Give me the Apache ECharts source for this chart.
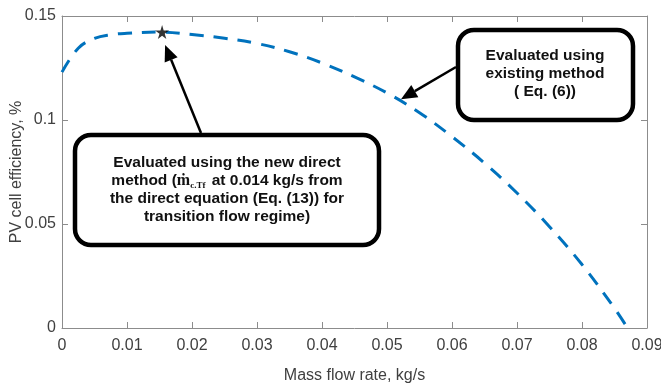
<!DOCTYPE html>
<html lang="en" style="height: 100%;width: 100%">
<head>
    <meta charset="utf-8">
</head>
<body style="height: 100%;width: 100%; margin: 0">
<div id="container" style="height: 385px;width: 661px;"></div>

<script type="text/javascript" src="https://cdn.jsdelivr.net/npm/echarts@6/dist/echarts.min.js"></script>
<script type="text/javascript">
    // mass flow rate (kg/s) and PV cell efficiency (%)
    var flowRates = [0, 0.0025, 0.005, 0.0075, 0.01, 0.015, 0.02, 0.025, 0.03, 0.035, 0.04,
        0.045, 0.05, 0.055, 0.06, 0.065, 0.07, 0.075, 0.08, 0.085, 0.087];
    var efficiency = [0.123, 0.1345, 0.1392, 0.141, 0.1417, 0.1423, 0.1411, 0.1393, 0.1368, 0.1328, 0.1274,
        0.1207, 0.113, 0.1035, 0.092, 0.0793, 0.0649, 0.0487, 0.0305, 0.0095, 0];
    // optimum from the direct method
    var starPoint = [0.0154, 0.1423];
    // point on the curve the second callout points at
    var curveTarget = [0.052, 0.1095];

    var xTickLabels = ['0', '0.01', '0.02', '0.03', '0.04', '0.05', '0.06', '0.07', '0.08', '0.09'];
    var yTickLabels = ['0', '0.05', '0.1', '0.15'];

    var lineData = flowRates.map(function (x, i) { return [x, efficiency[i]]; });

    var dom = document.getElementById('container');
    var myChart = echarts.init(dom, null, {renderer: 'canvas'});

    var axisGray = '#8c8c8c';
    var labelFont = "Arial, sans-serif";

    function xAxisBase(pos) {
        return {
            type: 'value', position: pos, min: 0, max: 0.09, interval: 0.01,
            axisLine: {show: true, onZero: false, lineStyle: {color: axisGray, width: 1}},
            axisTick: {show: true, inside: true, length: 6, lineStyle: {color: axisGray}},
            splitLine: {show: false}
        };
    }
    function yAxisBase(pos) {
        return {
            type: 'value', position: pos, min: 0, max: 0.15, interval: 0.05,
            axisLine: {show: true, onZero: false, lineStyle: {color: axisGray, width: 1}},
            axisTick: {show: true, inside: true, length: 6, lineStyle: {color: axisGray}},
            splitLine: {show: false}
        };
    }

    var xBottom = xAxisBase('bottom');
    xBottom.axisLabel = {
        show: true, color: '#404040', fontSize: 16, fontFamily: labelFont, margin: 10,
        formatter: function (v) { return xTickLabels[Math.round(v / 0.01)]; }
    };
    xBottom.name = 'Mass flow rate, kg/s';
    xBottom.nameLocation = 'middle';
    xBottom.nameGap = 40;
    xBottom.nameMoveOverlap = false;
    xBottom.nameTextStyle = {color: '#404040', fontSize: 16, fontFamily: labelFont};
    var xTop = xAxisBase('top');
    xTop.axisLabel = {show: false};

    var yLeft = yAxisBase('left');
    yLeft.axisLabel = {
        show: true, color: '#404040', fontSize: 16, fontFamily: labelFont, margin: 6,
        formatter: function (v) { return yTickLabels[Math.round(v / 0.05)]; }
    };
    yLeft.name = 'PV cell efficiency, %';
    yLeft.nameLocation = 'middle';
    yLeft.nameGap = 37;
    yLeft.nameMoveOverlap = false;
    yLeft.nameTextStyle = {color: '#404040', fontSize: 16, fontFamily: labelFont};
    var yRight = yAxisBase('right');
    yRight.axisLabel = {show: false};

    var option = {
        animation: false,
        grid: {left: 62, right: 14, top: 16, bottom: 57, containLabel: false, outerBoundsMode: 'none'},
        xAxis: [xBottom, xTop],
        yAxis: [yLeft, yRight],
        series: [
            {
                name: 'efficiency',
                type: 'line',
                data: lineData,
                smooth: 0.4,
                symbol: 'none',
                lineStyle: {color: '#0072BD', width: 3, type: [14, 10]}
            },
            {
                name: 'optimum',
                type: 'scatter',
                data: [starPoint],
                symbol: 'path://M50,0 L61,35 L98,35 L68,57 L79,91 L50,70 L21,91 L32,57 L2,35 L39,35 Z',
                symbolSize: 14,
                itemStyle: {color: '#000'},
                z: 5
            }
        ]
    };
    myChart.setOption(option);

    // arrow as line + filled head
    function arrow(from, to) {
        var dx = to[0] - from[0], dy = to[1] - from[1];
        var len = Math.sqrt(dx * dx + dy * dy);
        var ux = dx / len, uy = dy / len;
        var hl = 16, hw = 7;
        var bx = to[0] - ux * hl, by = to[1] - uy * hl;
        return [
            {type: 'line', shape: {x1: from[0], y1: from[1], x2: bx, y2: by},
                style: {stroke: '#000', lineWidth: 2.5}, z: 10},
            {type: 'polygon', shape: {points: [to,
                    [bx - uy * hw, by + ux * hw], [bx + uy * hw, by - ux * hw]]},
                style: {fill: '#000'}, z: 10}
        ];
    }

    var starPx = myChart.convertToPixel({gridIndex: 0}, starPoint);
    var curvePx = myChart.convertToPixel({gridIndex: 0}, curveTarget);

    var graphics = [
        {
            type: 'rect', z: 20,
            shape: {x: 75, y: 135, width: 304, height: 110, r: 16},
            style: {fill: '#fff', stroke: '#000', lineWidth: 4.5}
        },
        {
            type: 'text', z: 21, x: 227, y: 190,
            style: {
                text: 'Evaluated using the new direct\nmethod ({m|ṁ}{s|c.Tf} at 0.014 kg/s from\nthe direct equation (Eq. (13)) for\ntransition flow regime)',
                font: 'bold 15.5px Arial, sans-serif', fill: '#111',
                lineHeight: 18, align: 'center', verticalAlign: 'middle',
                rich: {
                    m: {font: "bold 16px 'Liberation Serif', serif", lineHeight: 18},
                    s: {font: "bold 9px 'Liberation Serif', serif", lineHeight: 18, verticalAlign: 'bottom', padding: [0, 2, 0, 0]}
                }
            }
        },
        {
            type: 'rect', z: 20,
            shape: {x: 458, y: 30, width: 175, height: 90, r: 16},
            style: {fill: '#fff', stroke: '#000', lineWidth: 4.5}
        },
        {
            type: 'text', z: 21, x: 545, y: 74,
            style: {
                text: 'Evaluated using\nexisting method\n( Eq. (6))',
                font: 'bold 15.5px Arial, sans-serif', fill: '#111',
                lineHeight: 18, align: 'center', verticalAlign: 'middle'
            }
        }
    ];
    graphics = graphics.concat(arrow([201, 133], [starPx[0] + 3, starPx[1] + 13]));
    graphics = graphics.concat(arrow([456, 67], [curvePx[0] + 1, curvePx[1] - 1]));

    myChart.setOption({graphic: graphics});
</script>
</body>
</html>
